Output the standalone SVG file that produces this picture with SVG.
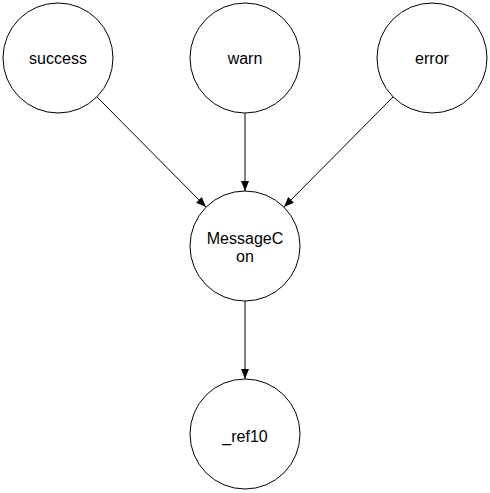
<svg xmlns="http://www.w3.org/2000/svg" width="490" height="493" viewBox="0 0 490 493">
<style>
.node circle{fill:#fff;stroke:#000;stroke-width:1}
.node text{font-family:"Liberation Sans",Arial,sans-serif;font-size:16px;fill:#000;text-anchor:middle}
.edge{stroke:#000;stroke-width:1;fill:none;marker-end:url(#arr)}
</style>
<defs>
<marker id="arr" markerWidth="10" markerHeight="10" refX="10" refY="4" orient="auto" markerUnits="userSpaceOnUse">
<path d="M0,0 L10,4 L0,8 Z" fill="#000"/>
</marker>
</defs>
<rect width="490" height="493" fill="#fff"/>
<g id="connectors">
<line class="edge" x1="97" y1="97" x2="206" y2="207"/>
<line class="edge" x1="245" y1="113" x2="245" y2="191"/>
<line class="edge" x1="393" y1="97" x2="284" y2="207"/>
<line class="edge" x1="245" y1="301" x2="245" y2="379"/>
</g>
<g id="success" class="node"><circle cx="58" cy="58" r="55"/><text x="58" y="64">success</text></g>
<g id="warn" class="node"><circle cx="245" cy="58" r="55"/><text x="245" y="64">warn</text></g>
<g id="error" class="node"><circle cx="432" cy="58" r="55"/><text x="432" y="64">error</text></g>
<g id="MessageCon" class="node"><circle cx="245" cy="246" r="55"/><text x="245" y="244">MessageC</text><text x="245" y="262">on</text></g>
<g id="_ref10" class="node"><circle cx="245" cy="434" r="55"/><text x="245" y="442">_ref10</text></g>
</svg>
